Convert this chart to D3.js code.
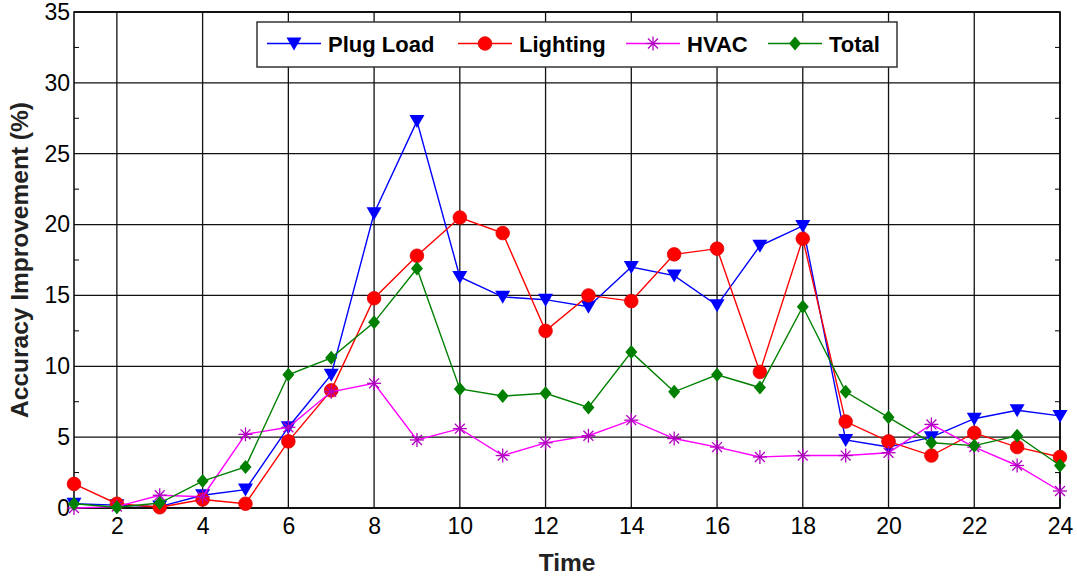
<!DOCTYPE html>
<html>
<head>
<meta charset="utf-8">
<script src="https://cdn.jsdelivr.net/npm/d3@7"></script>
<style>
  body { margin: 0; background: #fff; }
  svg { font-family: "Liberation Sans", Arial, sans-serif; }
</style>
</head>
<body>
<div id="chart"></div>
<script>
const hours = d3.range(1, 25);
const plugLoad = [0.3, 0.2, 0.1, 0.9, 1.3, 5.7, 9.4, 20.8, 27.3, 16.3, 14.9, 14.7, 14.2, 17.0, 16.4, 14.3, 18.5, 19.9, 4.8, 4.3, 5.0, 6.3, 6.9, 6.5];
const lighting = [1.7, 0.3, 0.05, 0.6, 0.3, 4.7, 8.3, 14.8, 17.8, 20.5, 19.4, 12.5, 15.0, 14.6, 17.9, 18.3, 9.6, 19.0, 6.1, 4.7, 3.7, 5.3, 4.3, 3.6];
const hvac = [0.0, 0.1, 0.9, 0.8, 5.2, 5.7, 8.2, 8.8, 4.8, 5.6, 3.7, 4.6, 5.1, 6.2, 4.9, 4.3, 3.6, 3.7, 3.7, 3.9, 5.9, 4.3, 3.0, 1.2];
const total = [0.3, 0.05, 0.35, 1.9, 2.9, 9.4, 10.6, 13.1, 16.9, 8.4, 7.9, 8.1, 7.1, 11.0, 8.2, 9.4, 8.5, 14.2, 8.2, 6.4, 4.6, 4.4, 5.1, 3.0];
const xTicks = [2, 4, 6, 8, 10, 12, 14, 16, 18, 20, 22, 24];
const yTicks = [0, 5, 10, 15, 20, 25, 30, 35];

const series = [
  {name: "Plug Load", values: plugLoad, line: "#0000ff", fill: "#0000ff", shape: "tri"},
  {name: "Lighting", values: lighting, line: "#ff0000", fill: "#ff0000", shape: "circle"},
  {name: "HVAC", values: hvac, line: "#ff00ff", fill: "#b000c0", shape: "star"},
  {name: "Total", values: total, line: "#008000", fill: "#008000", shape: "diamond"}
];

const W = 1077, H = 578;
const margin = {top: 12, right: 17, bottom: 70, left: 74};
const width = W - margin.left - margin.right,
      height = H - margin.top - margin.bottom;

const svg = d3.select("#chart").append("svg")
    .attr("width", W)
    .attr("height", H);

const g = svg.append("g")
    .attr("transform", "translate(" + margin.left + "," + margin.top + ")");

const x = d3.scaleLinear().domain([1, 24]).range([0, width]);
const y = d3.scaleLinear().domain([0, 35]).range([height, 0]);

// grid
g.append("g").selectAll("line").data(xTicks).enter().append("line")
    .attr("x1", d => x(d)).attr("x2", d => x(d))
    .attr("y1", 0).attr("y2", height)
    .attr("stroke", "#111").attr("stroke-width", 1.3);
g.append("g").selectAll("line").data(yTicks).enter().append("line")
    .attr("x1", 0).attr("x2", width)
    .attr("y1", d => y(d)).attr("y2", d => y(d))
    .attr("stroke", "#111").attr("stroke-width", 1.3);

// axes
const xAxis = g.append("g")
    .attr("transform", "translate(0," + height + ")")
    .call(d3.axisBottom(x).tickValues(xTicks).tickSize(0).tickPadding(10).tickFormat(d3.format("d")));
xAxis.select(".domain").remove();
xAxis.selectAll("text").attr("font-size", 23).attr("fill", "#000");

const yAxis = g.append("g")
    .call(d3.axisLeft(y).tickValues(yTicks).tickSize(0).tickPadding(4).tickFormat(d3.format("d")));
yAxis.select(".domain").remove();
yAxis.selectAll("text").attr("font-size", 23).attr("fill", "#000");

// minor ticks left and right
const minor = d3.range(2.5, 35, 5);
g.append("g").selectAll("line").data(minor).enter().append("line")
    .attr("x1", 0).attr("x2", 5)
    .attr("y1", d => y(d)).attr("y2", d => y(d))
    .attr("stroke", "#000");
g.append("g").selectAll("line").data(minor).enter().append("line")
    .attr("x1", width - 5).attr("x2", width)
    .attr("y1", d => y(d)).attr("y2", d => y(d))
    .attr("stroke", "#000");

// frame
g.append("rect")
    .attr("width", width).attr("height", height)
    .attr("fill", "none").attr("stroke", "#000").attr("stroke-width", 1.5);

// labels
svg.append("text")
    .attr("x", margin.left + width / 2).attr("y", 571)
    .attr("text-anchor", "middle")
    .attr("font-size", 24.5).attr("font-weight", "bold").attr("fill", "#222")
    .text("Time");
svg.append("text")
    .attr("transform", "translate(28," + (margin.top + height / 2) + ") rotate(-90)")
    .attr("text-anchor", "middle")
    .attr("font-size", 24.5).attr("font-weight", "bold").attr("fill", "#222")
    .text("Accuracy Improvement (%)");

function drawMarker(sel, s, cx, cy) {
    if (s.shape === "tri") {
        sel.append("path")
            .attr("d", "M" + (cx - 7.5) + "," + (cy - 6) + "L" + (cx + 7.5) + "," + (cy - 6) + "L" + cx + "," + (cy + 7) + "Z")
            .attr("fill", s.fill);
    } else if (s.shape === "circle") {
        sel.append("circle").attr("cx", cx).attr("cy", cy).attr("r", 6.8)
            .attr("fill", s.fill).attr("stroke", "#e00000").attr("stroke-width", 0.8);
    } else if (s.shape === "diamond") {
        sel.append("path")
            .attr("d", "M" + cx + "," + (cy - 7) + "L" + (cx + 6) + "," + cy + "L" + cx + "," + (cy + 7) + "L" + (cx - 6) + "," + cy + "Z")
            .attr("fill", s.fill);
    } else {
        const r = 7;
        [0, 45, 90, 135].forEach(a => {
            const rad = a * Math.PI / 180;
            sel.append("line")
                .attr("x1", cx - r * Math.cos(rad)).attr("y1", cy - r * Math.sin(rad))
                .attr("x2", cx + r * Math.cos(rad)).attr("y2", cy + r * Math.sin(rad))
                .attr("stroke", s.fill).attr("stroke-width", 1.3);
        });
    }
}

const line = d3.line().x((d, i) => x(hours[i])).y(d => y(d));

series.forEach(s => {
    const sg = g.append("g");
    sg.append("path")
        .datum(s.values)
        .attr("d", line)
        .attr("fill", "none")
        .attr("stroke", s.line)
        .attr("stroke-width", 1.4);
    s.values.forEach((v, i) => drawMarker(sg, s, x(hours[i]), y(v)));
});

// legend
const leg = svg.append("g").attr("transform", "translate(257,22)");
leg.append("rect")
    .attr("width", 640).attr("height", 45)
    .attr("fill", "#fff").attr("stroke", "#333").attr("stroke-width", 1.5);
const legX = [10, 201, 369, 511];
series.forEach((s, i) => {
    const lx = legX[i];
    const ig = leg.append("g");
    ig.append("line")
        .attr("x1", lx).attr("x2", lx + 54)
        .attr("y1", 21.5).attr("y2", 21.5)
        .attr("stroke", s.line).attr("stroke-width", 1.4);
    drawMarker(ig, s, lx + 27, 21.5);
    ig.append("text")
        .attr("x", lx + 61).attr("y", 30)
        .attr("font-size", 22).attr("font-weight", "bold").attr("fill", "#000")
        .text(s.name);
});
</script>
</body>
</html>
